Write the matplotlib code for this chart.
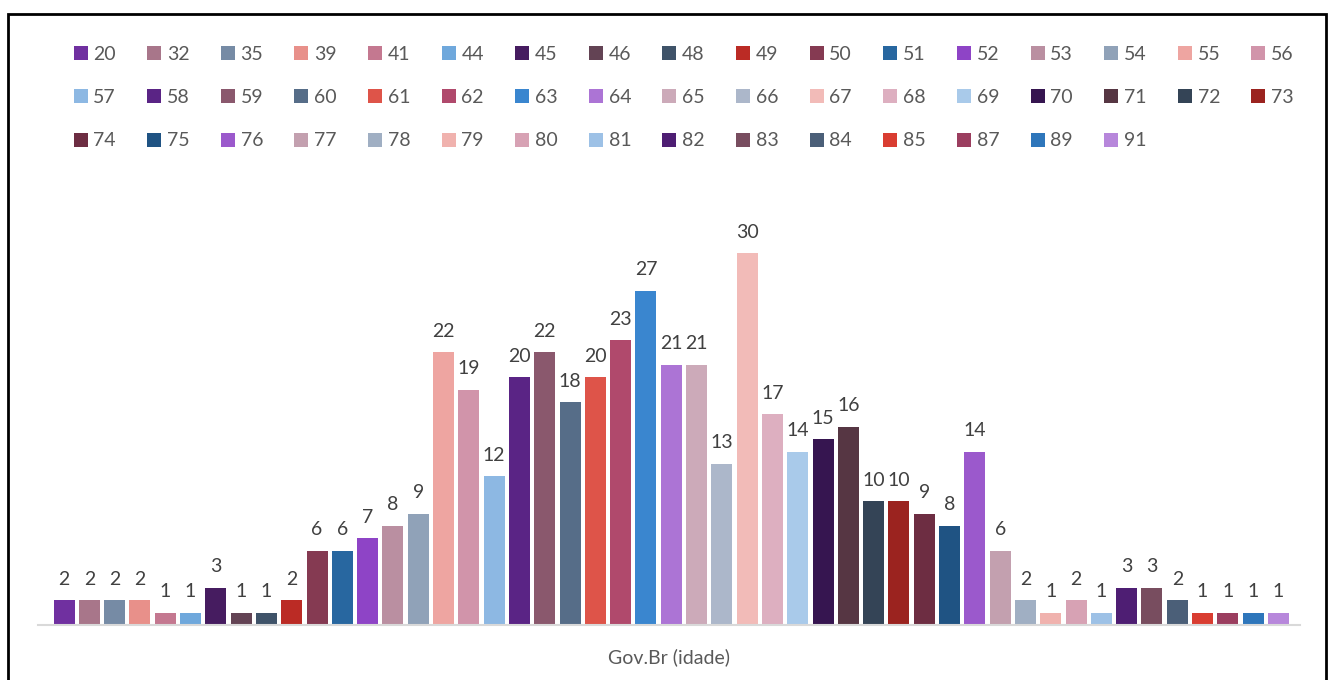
import matplotlib.pyplot as plt
from matplotlib.patches import Patch, Rectangle

idades = ['20', '32', '35', '39', '41', '44', '45', '46', '48', '49', '50', '51', '52', '53', '54', '55', '56',
          '57', '58', '59', '60', '61', '62', '63', '64', '65', '66', '67', '68', '69', '70', '71', '72', '73',
          '74', '75', '76', '77', '78', '79', '80', '81', '82', '83', '84', '85', '87', '89', '91']
valores = [2, 2, 2, 2, 1, 1, 3, 1, 1, 2, 6, 6, 7, 8, 9, 22, 19, 12, 20, 22, 18, 20, 23, 27, 21, 21, 13,
           30, 17, 14, 15, 16, 10, 10, 9, 8, 14, 6, 2, 1, 2, 1, 3, 3, 2, 1, 1, 1, 1]
cores = ['#7030A0', '#A8768A', '#768BA5', '#E8908A', '#C47890', '#6FA8DC', '#461C60', '#634354', '#3F5369',
         '#BB2B25', '#853A52', '#2867A0', '#8E44C6', '#BA8FA1', '#90A2B8', '#EEA5A1', '#D194AA',
         '#8DB8E3', '#5A2485', '#8A586D', '#566D88', '#DE5449', '#B0496C', '#3A86CF', '#AC74D5', '#CCAAB9',
         '#ACB7CA', '#F2BBB8', '#DDAFC0', '#A9CAEA', '#361550', '#563643', '#344456', '#9B231F',
         '#6D2D42', '#1F5383', '#9B59CC', '#C3A0AF', '#A0AFC3', '#F0B2AE', '#D7A2B4', '#9DC1E6', '#4E1E73',
         '#784D5F', '#4B5F78', '#D93D31', '#9B3E5F', '#2E76BB', '#B787DB']

plt.rcParams['font.family'] = ['Lato', 'DejaVu Sans']

fig = plt.figure(figsize=(13.29, 6.8), dpi=100)
ax = fig.add_axes([38/1329, 55/680, 1262/1329, 415/680])

x = list(range(len(valores)))
ax.bar(x, valores, width=0.83, color=cores)
for xi, v in zip(x, valores):
    ax.annotate(str(v), (xi, v), xytext=(0, 9), textcoords='offset points',
                ha='center', va='bottom', fontsize=14, color='#404040')

ax.set_xlim(-1.03, 48.85)
ax.set_ylim(0, 33.5)
ax.set_xticks([])
ax.set_yticks([])
for s in ['top', 'right', 'left']:
    ax.spines[s].set_visible(False)
ax.spines['bottom'].set_color('#D9D9D9')
ax.spines['bottom'].set_linewidth(1.5)
ax.set_xlabel('Gov.Br (idade)', fontsize=14, color='#595959', labelpad=17)

# legenda preenchida por linhas (matplotlib preenche por colunas)
ncol = 17
ordem = []
for j in range(ncol):
    for i in range(j, len(idades), ncol):
        ordem.append(i)
handles = [Patch(facecolor=cores[i]) for i in ordem]
rotulos = [idades[i] for i in ordem]
fig.legend(handles, rotulos, loc='upper left', bbox_to_anchor=(56/1329, 1 - 28/680), ncol=ncol,
           frameon=False, fontsize=14, handlelength=0.72, handleheight=0.72, handletextpad=0.3,
           columnspacing=1.6, labelspacing=1.36, labelcolor='#595959')

# moldura
fig.patches.append(Rectangle((8/1329, -0.05), 1318/1329, 1 - 14/680 + 0.05, transform=fig.transFigure,
                             fill=False, edgecolor='black', linewidth=2))

fig.savefig('out.png', dpi=100)
